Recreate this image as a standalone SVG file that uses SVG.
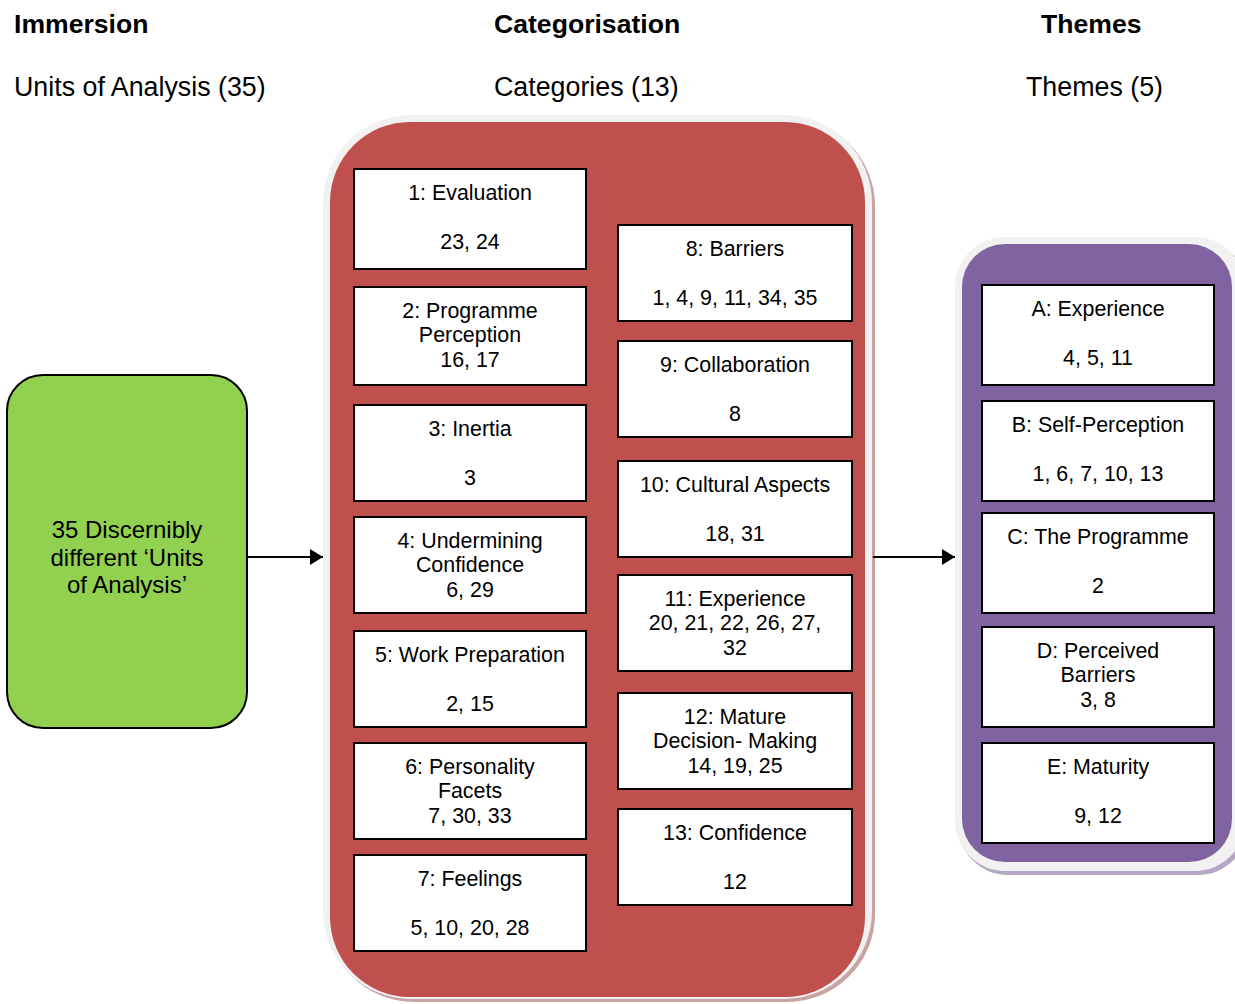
<svg xmlns="http://www.w3.org/2000/svg" width="1235" height="1004" viewBox="0 0 1235 1004">
<defs>
<style>
text{font-family:"Liberation Sans",Arial,sans-serif;fill:#000}
.h{font-size:26.6px;font-weight:bold}
.s{font-size:26.8px}
.n{font-size:21.4px;text-anchor:middle}
.g{font-size:24px;text-anchor:middle}
.box{fill:#fff;stroke:#000;stroke-width:2}
.conn{stroke:#000;stroke-width:2;fill:none}
</style>
<marker id="ah" viewBox="0 0 13 16" refX="13" refY="8" markerWidth="13" markerHeight="16" markerUnits="userSpaceOnUse" orient="auto">
<path d="M0,0 L13,8 L0,16 Z" fill="#000"/>
</marker>
</defs>
<rect width="1235" height="1004" fill="#fff"/>

<g id="headings">
<text class="h" x="14" y="33">Immersion</text>
<text class="s" x="14" y="96">Units of Analysis (35)</text>
<text class="h" x="494" y="33">Categorisation</text>
<text class="s" x="494" y="96">Categories (13)</text>
<text class="h" x="1041" y="33">Themes</text>
<text class="s" x="1026" y="96">Themes (5)</text>
</g>

<g id="categorisation-container">
<rect x="326" y="118" width="549" height="884" rx="88" fill="#c9a3a3"/>
<rect x="323" y="115" width="549" height="884" rx="88" fill="#f1f1f1"/>
<rect x="330" y="122" width="535" height="875" rx="80" fill="#c0504d"/>
</g>

<g id="themes-container">
<rect x="958" y="240" width="290" height="635" rx="50" fill="#b3a7c4"/>
<rect x="955" y="237" width="290" height="634" rx="50" fill="#f1f1f1"/>
<rect x="962" y="244" width="270" height="618" rx="43" fill="#8064a2"/>
</g>

<g id="units">
<rect x="7" y="375" width="240" height="353" rx="36" fill="#92d050" stroke="#000" stroke-width="2"/>
<text class="g" x="127" y="538">35 Discernibly</text>
<text class="g" x="127" y="566">different ‘Units</text>
<text class="g" x="127" y="593">of Analysis’</text>
</g>

<g id="connectors">
<line class="conn" x1="247" y1="557" x2="323" y2="557" marker-end="url(#ah)"/>
<line class="conn" x1="873" y1="557" x2="955" y2="557" marker-end="url(#ah)"/>
</g>

<g id="cat1"><rect class="box" x="354" y="169" width="232" height="100"/>
<text class="n" x="470" y="200">1: Evaluation</text><text class="n" x="470" y="249">23, 24</text></g>
<g id="cat2"><rect class="box" x="354" y="287" width="232" height="98"/>
<text class="n" x="470" y="318">2: Programme</text><text class="n" x="470" y="342">Perception</text><text class="n" x="470" y="367">16, 17</text></g>
<g id="cat3"><rect class="box" x="354" y="405" width="232" height="96"/>
<text class="n" x="470" y="436">3: Inertia</text><text class="n" x="470" y="485">3</text></g>
<g id="cat4"><rect class="box" x="354" y="517" width="232" height="96"/>
<text class="n" x="470" y="548">4: Undermining</text><text class="n" x="470" y="572">Confidence</text><text class="n" x="470" y="597">6, 29</text></g>
<g id="cat5"><rect class="box" x="354" y="631" width="232" height="96"/>
<text class="n" x="470" y="662">5: Work Preparation</text><text class="n" x="470" y="711">2, 15</text></g>
<g id="cat6"><rect class="box" x="354" y="743" width="232" height="96"/>
<text class="n" x="470" y="774">6: Personality</text><text class="n" x="470" y="798">Facets</text><text class="n" x="470" y="823">7, 30, 33</text></g>
<g id="cat7"><rect class="box" x="354" y="855" width="232" height="96"/>
<text class="n" x="470" y="886">7: Feelings</text><text class="n" x="470" y="935">5, 10, 20, 28</text></g>

<g id="cat8"><rect class="box" x="618" y="225" width="234" height="96"/>
<text class="n" x="735" y="256">8: Barriers</text><text class="n" x="735" y="305">1, 4, 9, 11, 34, 35</text></g>
<g id="cat9"><rect class="box" x="618" y="341" width="234" height="96"/>
<text class="n" x="735" y="372">9: Collaboration</text><text class="n" x="735" y="421">8</text></g>
<g id="cat10"><rect class="box" x="618" y="461" width="234" height="96"/>
<text class="n" x="735" y="492">10: Cultural Aspects</text><text class="n" x="735" y="541">18, 31</text></g>
<g id="cat11"><rect class="box" x="618" y="575" width="234" height="96"/>
<text class="n" x="735" y="606">11: Experience</text><text class="n" x="735" y="630">20, 21, 22, 26, 27,</text><text class="n" x="735" y="655">32</text></g>
<g id="cat12"><rect class="box" x="618" y="693" width="234" height="96"/>
<text class="n" x="735" y="724">12: Mature</text><text class="n" x="735" y="748">Decision- Making</text><text class="n" x="735" y="773">14, 19, 25</text></g>
<g id="cat13"><rect class="box" x="618" y="809" width="234" height="96"/>
<text class="n" x="735" y="840">13: Confidence</text><text class="n" x="735" y="889">12</text></g>

<g id="themeA"><rect class="box" x="982" y="285" width="232" height="100"/>
<text class="n" x="1098" y="316">A: Experience</text><text class="n" x="1098" y="365">4, 5, 11</text></g>
<g id="themeB"><rect class="box" x="982" y="401" width="232" height="100"/>
<text class="n" x="1098" y="432">B: Self-Perception</text><text class="n" x="1098" y="481">1, 6, 7, 10, 13</text></g>
<g id="themeC"><rect class="box" x="982" y="513" width="232" height="100"/>
<text class="n" x="1098" y="544">C: The Programme</text><text class="n" x="1098" y="593">2</text></g>
<g id="themeD"><rect class="box" x="982" y="627" width="232" height="100"/>
<text class="n" x="1098" y="658">D: Perceived</text><text class="n" x="1098" y="682">Barriers</text><text class="n" x="1098" y="707">3, 8</text></g>
<g id="themeE"><rect class="box" x="982" y="743" width="232" height="100"/>
<text class="n" x="1098" y="774">E: Maturity</text><text class="n" x="1098" y="823">9, 12</text></g>
</svg>
